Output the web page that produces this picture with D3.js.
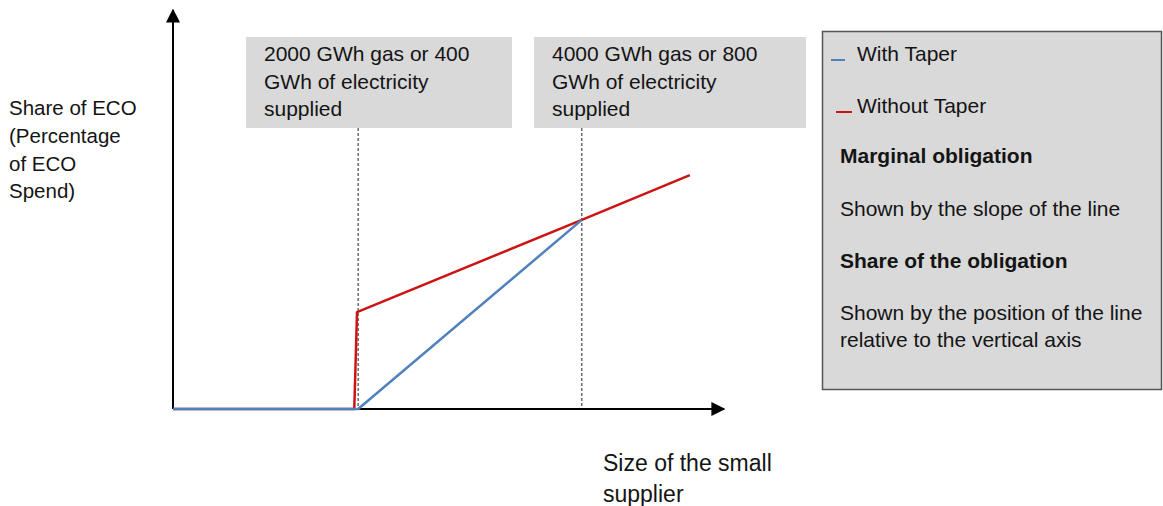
<!DOCTYPE html>
<html>
<head>
<meta charset="utf-8">
<script src="https://cdn.jsdelivr.net/npm/d3@7"></script>
<style>
  html, body { margin: 0; padding: 0; background: #ffffff; }
  svg { display: block; font-family: "Liberation Sans", Arial, sans-serif; }
</style>
</head>
<body>
<svg id="chart" width="1163" height="506"></svg>
<script>
// Supplier size (relative units along the horizontal axis) and ECO share (% of the vertical axis)
const withTaperSize   = [0, 33.6, 74.2];
const withTaperShare  = [0, 0, 47.4];
const withoutTaperSize  = [0, 32.9, 33.4, 74.2, 93.8];
const withoutTaperShare = [0, 0, 24.3, 47.4, 58.6];

// Threshold markers on the size axis
const thresholdSize  = [33.6, 74.2];
const thresholdLabel = [
  ["2000 GWh gas or 400", "GWh of electricity", "supplied"],
  ["4000 GWh gas or 800", "GWh of electricity", "supplied"]
];

const yAxisLabel = ["Share of ECO", "(Percentage", "of ECO", "Spend)"];
const xAxisLabel = ["Size of the small", "supplier"];

const seriesNames  = ["With Taper", "Without Taper"];
const seriesColors = ["#4f81bd", "#cc1414"];

const noteLines = [
  { text: "Marginal obligation", bold: true },
  { text: "Shown by the slope of the line", bold: false },
  { text: "Share of the obligation", bold: true },
  { text: "Shown by the position of the line", bold: false },
  { text: "relative to the vertical axis", bold: false }
];

const svg = d3.select("#chart");
const textColor = "#141414";

const x = d3.scaleLinear().domain([0, 100]).range([173, 724]);
const y = d3.scaleLinear().domain([0, 100]).range([409, 10]);

// Arrow markers
const defs = svg.append("defs");
defs.append("marker")
  .attr("id", "arrow")
  .attr("viewBox", "0 0 10 10")
  .attr("refX", 9).attr("refY", 5)
  .attr("markerWidth", 7).attr("markerHeight", 7)
  .attr("markerUnits", "strokeWidth")
  .attr("orient", "auto")
  .append("path")
  .attr("d", "M0,0 L10,5 L0,10 Z")
  .attr("fill", "#000");

// Threshold annotation boxes with dashed guides down to the size axis
const boxes = [
  { x0: 246, x1: 512 },
  { x0: 534, x1: 806 }
];
thresholdLabel.forEach((lines, i) => {
  const g = svg.append("g");
  g.append("rect")
    .attr("x", boxes[i].x0).attr("y", 37)
    .attr("width", boxes[i].x1 - boxes[i].x0).attr("height", 91)
    .attr("fill", "#d9d9d9");
  g.selectAll("text").data(lines).join("text")
    .attr("x", boxes[i].x0 + 18)
    .attr("y", (d, j) => 61 + j * 27.5)
    .attr("font-size", 21)
    .attr("fill", textColor)
    .text(d => d);
  svg.append("line")
    .attr("x1", x(thresholdSize[i])).attr("x2", x(thresholdSize[i]))
    .attr("y1", 128).attr("y2", y(0))
    .attr("stroke", "#222").attr("stroke-width", 1)
    .attr("stroke-dasharray", "3,2");
});

// Axes with arrowheads
svg.append("line")
  .attr("x1", x(0)).attr("y1", y(0))
  .attr("x2", x(0)).attr("y2", y(100))
  .attr("stroke", "#000").attr("stroke-width", 2)
  .attr("marker-end", "url(#arrow)");
svg.append("line")
  .attr("x1", x(0)).attr("y1", y(0))
  .attr("x2", x(100)).attr("y2", y(0))
  .attr("stroke", "#000").attr("stroke-width", 2)
  .attr("marker-end", "url(#arrow)");

// Series lines
const line = d3.line().x(d => x(d[0])).y(d => y(d[1]));
svg.append("path")
  .datum(withoutTaperSize.map((s, i) => [s, withoutTaperShare[i]]))
  .attr("d", line)
  .attr("fill", "none")
  .attr("stroke", seriesColors[1]).attr("stroke-width", 2.5)
  .attr("stroke-linejoin", "round");
svg.append("path")
  .datum(withTaperSize.map((s, i) => [s, withTaperShare[i]]))
  .attr("d", line)
  .attr("fill", "none")
  .attr("stroke", seriesColors[0]).attr("stroke-width", 2.5)
  .attr("stroke-linejoin", "round");

// Axis titles
svg.append("g").selectAll("text").data(yAxisLabel).join("text")
  .attr("x", 9).attr("y", (d, i) => 115 + i * 27.8)
  .attr("font-size", 20.5).attr("fill", textColor)
  .text(d => d);
svg.append("g").selectAll("text").data(xAxisLabel).join("text")
  .attr("x", 603).attr("y", (d, i) => 471 + i * 31)
  .attr("font-size", 23).attr("fill", textColor)
  .text(d => d);

// Legend / notes panel
const lg = svg.append("g");
lg.append("rect")
  .attr("x", 822.5).attr("y", 31.5).attr("width", 339).attr("height", 358)
  .attr("fill", "#d9d9d9").attr("stroke", "#555").attr("stroke-width", 1.5);
const legendBase = [61, 113];
const legendDash = [[831, 845], [836, 852]];
seriesNames.forEach((name, i) => {
  lg.append("line")
    .attr("x1", legendDash[i][0]).attr("x2", legendDash[i][1])
    .attr("y1", legendBase[i] - 1).attr("y2", legendBase[i] - 1)
    .attr("stroke", seriesColors[i]).attr("stroke-width", 2);
  lg.append("text")
    .attr("x", 857).attr("y", legendBase[i])
    .attr("font-size", 21).attr("fill", textColor)
    .text(name);
});
const noteBase = [163, 216, 268, 320, 347];
lg.selectAll("text.note").data(noteLines).join("text")
  .attr("class", "note")
  .attr("x", 840).attr("y", (d, i) => noteBase[i])
  .attr("font-size", 21)
  .attr("font-weight", d => d.bold ? "bold" : "normal")
  .attr("fill", textColor)
  .text(d => d.text);
</script>
</body>
</html>
